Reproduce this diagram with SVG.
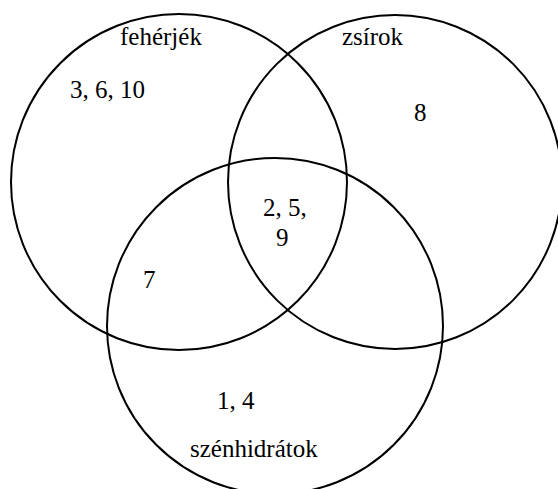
<svg xmlns="http://www.w3.org/2000/svg" width="558" height="489" viewBox="0 0 558 489">
<style>
.c{fill:none;stroke:#000;stroke-width:2}
</style>
<rect width="558" height="489" fill="#fff"/>
<g font-family="Liberation Serif, DejaVu Serif, serif" font-size="25" fill="#000">
<g id="feherjek">
<circle class="c" cx="179" cy="182" r="168"/>
<text x="120" y="45">fehérjék</text>
<text x="70" y="98">3, 6, 10</text>
</g>
<g id="zsirok">
<circle class="c" cx="395" cy="182" r="167"/>
<text x="342" y="45">zsírok</text>
<text x="414" y="121">8</text>
</g>
<g id="szenhidratok">
<circle class="c" cx="275" cy="326" r="168"/>
<text x="190" y="457">szénhidrátok</text>
<text x="217" y="409">1, 4</text>
</g>
<g id="regions">
<text x="263" y="216">2, 5,</text>
<text x="276" y="246">9</text>
<text x="143" y="288">7</text>
</g>
</g>
<g id="connectors"/>
</svg>
